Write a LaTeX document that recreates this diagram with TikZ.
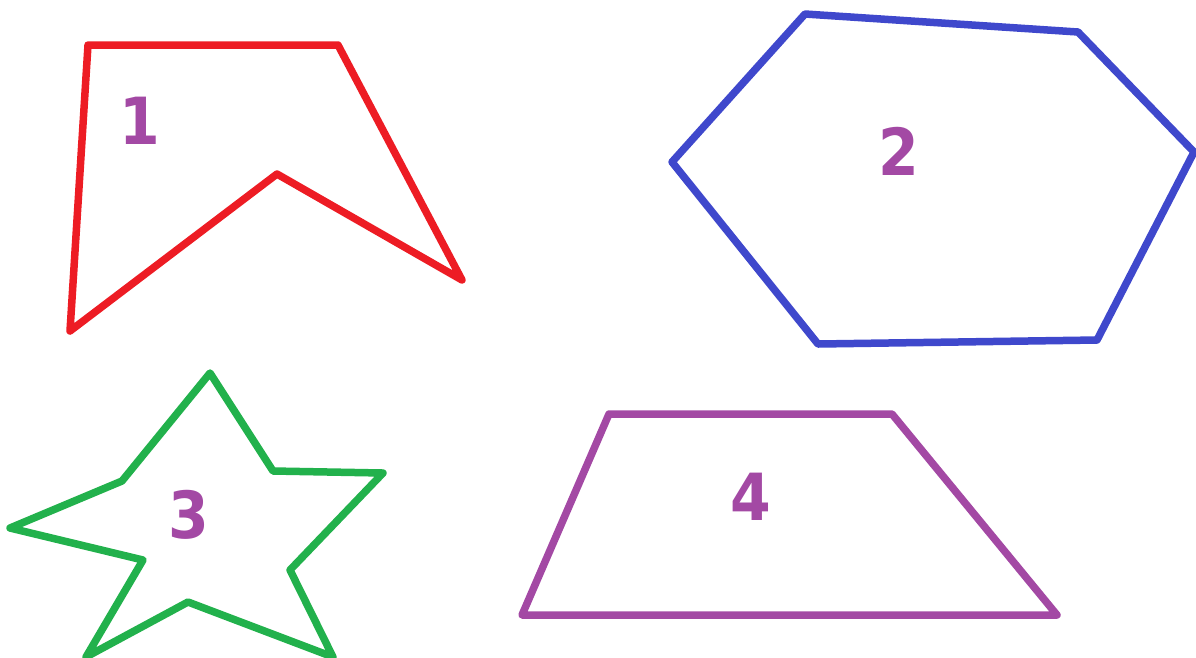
\documentclass[tikz,border=0pt]{standalone}
\usepackage{fontspec}
\newfontfamily\labfont{DejaVu Sans Condensed}
\definecolor{pred}{HTML}{ED1C24}
\definecolor{pblue}{HTML}{3F48CC}
\definecolor{pgreen}{HTML}{22B14C}
\definecolor{ppurple}{HTML}{A349A4}
\tikzset{
  shapeline/.style={line width=0.15cm, line join=round, line cap=round},
  numlabel/.style={text=ppurple, font=\labfont\bfseries\fontsize{37}{40}\selectfont, inner sep=0pt}
}
\begin{document}
\begin{tikzpicture}[x=0.02cm, y=-0.02cm]
\useasboundingbox (0,0) rectangle (1196,657);
% shape 1
\draw[shapeline, pred] (88,45) -- (338,45) -- (462,280) -- (277,174) -- (70,331) -- cycle;
% shape 2
\draw[shapeline, pblue] (805,14) -- (1078,32) -- (1194,152) -- (1097,340) -- (818,344) -- (672,162) -- cycle;
% shape 3
\draw[shapeline, pgreen] (210,373) -- (273,471) -- (383,473) -- (290,570) -- (333,657) -- (188,602) -- (86,657) -- (143,560) -- (10,528) -- (122,481) -- cycle;
% shape 4
\draw[shapeline, ppurple] (609,414) -- (892,414) -- (1057,615) -- (522,615) -- cycle;
% labels
\node[numlabel] (l1) at (140,121) {1};
\node[numlabel] (l2) at (899,151) {2};
\node[numlabel] (l3) at (189,515) {3};
\node[numlabel] (l4) at (751,497) {4};
\end{tikzpicture}
\end{document}
